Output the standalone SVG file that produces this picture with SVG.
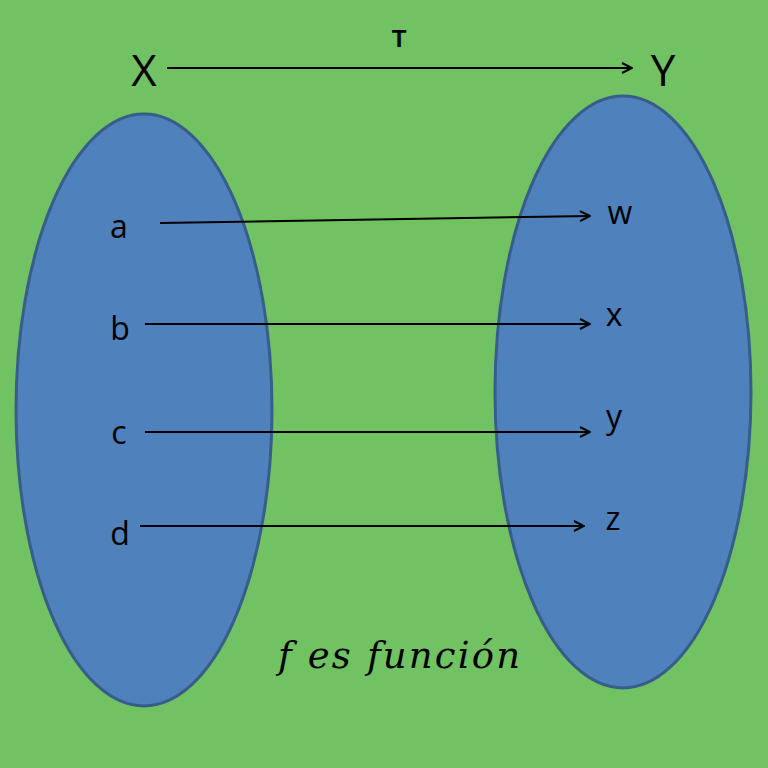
<svg xmlns="http://www.w3.org/2000/svg" width="768" height="768" viewBox="0 0 768 768">
<style>
.set{fill:#4f81bd;stroke:#385d8a;stroke-width:3}
.lbl{font-family:"Open Sans","Liberation Sans",sans-serif;fill:#000}
.big{font-size:44px}
.el{font-size:32px}
.con line{stroke:#000;stroke-width:2;marker-end:url(#ah)}
</style>
<defs>
<marker id="ah" viewBox="0 0 12 12" refX="11" refY="6" markerWidth="12" markerHeight="12" markerUnits="userSpaceOnUse" orient="auto">
<path d="M1,1 L11,6 L1,11" fill="none" stroke="#000" stroke-width="2"/>
</marker>
</defs>
<rect width="768" height="768" fill="#71c262"/>
<g id="setX"><ellipse class="set" cx="144" cy="410" rx="128" ry="296"/></g>
<g id="setY"><ellipse class="set" cx="623" cy="392" rx="128" ry="296"/></g>
<g id="X"><text class="lbl big" x="144" y="86" text-anchor="middle">X</text></g>
<g id="Y"><text class="lbl big" x="663" y="86" text-anchor="middle">Y</text></g>
<g id="T"><text x="399" y="47" font-family="Liberation Sans,sans-serif" font-weight="bold" font-size="24" text-anchor="middle">T</text></g>
<g id="a"><text class="lbl el" x="119" y="238" text-anchor="middle">a</text></g>
<g id="b"><text class="lbl el" x="120" y="340" text-anchor="middle">b</text></g>
<g id="c"><text class="lbl el" x="119" y="444" text-anchor="middle">c</text></g>
<g id="d"><text class="lbl el" x="120" y="545" text-anchor="middle">d</text></g>
<g id="w"><text class="lbl el" x="620" y="224" text-anchor="middle">w</text></g>
<g id="x"><text class="lbl el" x="614" y="326" text-anchor="middle">x</text></g>
<g id="y"><text class="lbl el" x="614" y="428" text-anchor="middle">y</text></g>
<g id="z"><text class="lbl el" x="613" y="530" text-anchor="middle">z</text></g>
<g id="caption"><text x="278" y="668" font-family="DejaVu Serif,serif" font-style="italic" font-size="37" textLength="242" lengthAdjust="spacing">f es función</text></g>
<g id="connectors" class="con">
<line x1="167" y1="68" x2="632" y2="68"/>
<line x1="160" y1="223" x2="590" y2="216"/>
<line x1="145" y1="324" x2="590" y2="324"/>
<line x1="145" y1="432" x2="590" y2="432"/>
<line x1="140" y1="526" x2="584" y2="526"/>
</g>
</svg>
